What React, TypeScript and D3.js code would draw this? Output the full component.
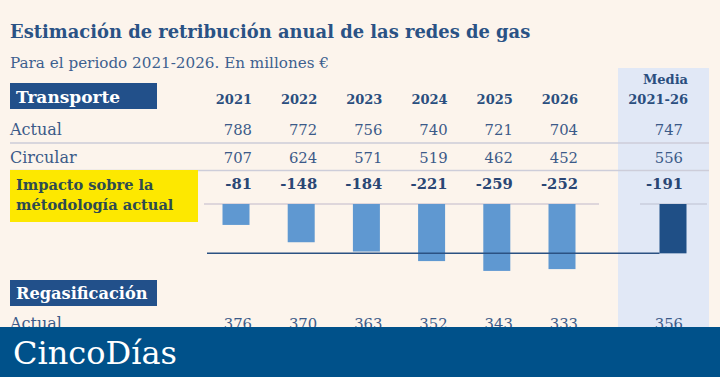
import React, { useEffect } from "react";
import * as d3 from "d3";

const years = ["2021", "2022", "2023", "2024", "2025", "2026"];
const transporteActual = [788, 772, 756, 740, 721, 704];
const transporteCircular = [707, 624, 571, 519, 462, 452];
const impacto = [-81, -148, -184, -221, -259, -252];
const mediaActual = 747;
const mediaCircular = 556;
const mediaImpacto = -191;
const regasActual = [376, 370, 363, 352, 343, 333];
const regasMediaActual = 356;

const W = 720;
const H = 377;
const FONT = "'DejaVu Serif', serif";

export default function App() {
  useEffect(() => {
    document.body.style.margin = "0";
  }, []);

  const xCenter = d3.scaleLinear().domain([0, years.length - 1]).range([236, 562]);
  const mediaCenter = 673;
  const yBar = d3.scaleLinear().domain([0, -300]).range([204, 281.5]);
  const barW = 27;

  const valColor = "#3b5a88";
  const numSize = 14.8;

  return (
    <svg width={W} height={H} style={{ position: "fixed", left: 0, top: 0, display: "block" }} fontFamily={FONT}>
      <rect x={0} y={0} width={W} height={H} fill="#fcf4ec" />
      {/* Media column highlight */}
      <rect x={618} y={68} width={91} height={H - 68} fill="#e1e8f6" />

      <text x={10} y={38} fontSize={17.9} fontWeight={700} fill="#2a5285">
        Estimación de retribución anual de las redes de gas
      </text>
      <text x={10} y={68} fontSize={15.2} fill="#3d5f8f">
        Para el periodo 2021-2026. En millones €
      </text>

      {/* Transporte header */}
      <rect x={10} y={83} width={147} height={26} fill="#22508a" />
      <text x={16} y={103} fontSize={17} fontWeight={700} fill="#ffffff">Transporte</text>
      {years.map((y, i) => (
        <text key={y} x={xCenter(i) + 16} y={104} textAnchor="end" fontSize={13} fontWeight={700} fill="#2a4e7e">{y}</text>
      ))}
      <text x={688} y={84} textAnchor="end" fontSize={13} fontWeight={700} fill="#2a4e7e">Media</text>
      <text x={688} y={104} textAnchor="end" fontSize={13} fontWeight={700} fill="#2a4e7e">2021-26</text>

      {/* Rows */}
      <text x={10} y={135} fontSize={16} fill={valColor}>Actual</text>
      {transporteActual.map((v, i) => (
        <text key={"a" + i} x={xCenter(i) + 16} y={135} textAnchor="end" fontSize={numSize} fill={valColor}>{v}</text>
      ))}
      <text x={683} y={135} textAnchor="end" fontSize={numSize} fill={valColor}>{mediaActual}</text>
      <line x1={10} x2={709} y1={143} y2={143} stroke="#cdcdd9" strokeWidth={1.5} />

      <text x={10} y={163} fontSize={16} fill={valColor}>Circular</text>
      {transporteCircular.map((v, i) => (
        <text key={"c" + i} x={xCenter(i) + 16} y={163} textAnchor="end" fontSize={numSize} fill={valColor}>{v}</text>
      ))}
      <text x={683} y={163} textAnchor="end" fontSize={numSize} fill={valColor}>{mediaCircular}</text>
      <line x1={10} x2={709} y1={170.5} y2={170.5} stroke="#cdcdd9" strokeWidth={1.5} />

      {/* Impacto */}
      <rect x={10} y={170} width={188} height={52} fill="#fde800" />
      <text x={16} y={190} fontSize={14.6} fontWeight={700} fill="#2e4b50">Impacto sobre la</text>
      <text x={16} y={210} fontSize={14.6} fontWeight={700} fill="#2e4b50">métodología actual</text>
      {impacto.map((v, i) => (
        <text key={"i" + i} x={xCenter(i) + 16} y={189} textAnchor="end" fontSize={numSize} fontWeight={700} fill="#2a4674">{v}</text>
      ))}
      <text x={683} y={189} textAnchor="end" fontSize={numSize} fontWeight={700} fill="#2a4674">{mediaImpacto}</text>

      <line x1={204} x2={599} y1={yBar(0)} y2={yBar(0)} stroke="#d4ccd6" strokeWidth={1.5} />
      <line x1={640} x2={707} y1={yBar(0)} y2={yBar(0)} stroke="#c9cedd" strokeWidth={1.5} />
      {impacto.map((v, i) => (
        <rect key={"b" + i} x={xCenter(i) - barW / 2} y={yBar(0)} width={barW} height={yBar(v) - yBar(0)} fill="#5f98d1" />
      ))}
      <rect x={mediaCenter - barW / 2} y={yBar(0)} width={barW} height={yBar(mediaImpacto) - yBar(0)} fill="#1f4f86" />
      <line x1={207} x2={mediaCenter - barW / 2} y1={yBar(mediaImpacto)} y2={yBar(mediaImpacto)} stroke="#2b5182" strokeWidth={1.5} />

      {/* Regasificación */}
      <rect x={10} y={280} width={147} height={26} fill="#22508a" />
      <text x={16} y={299} fontSize={16.2} fontWeight={700} fill="#ffffff">Regasificación</text>
      <text x={10} y={329} fontSize={16} fill={valColor}>Actual</text>
      {regasActual.map((v, i) => (
        <text key={"r" + i} x={xCenter(i) + 16} y={329} textAnchor="end" fontSize={numSize} fill={valColor}>{v}</text>
      ))}
      <text x={683} y={329} textAnchor="end" fontSize={numSize} fill={valColor}>{regasMediaActual}</text>

      {/* Footer */}
      <rect x={0} y={327} width={W} height={H - 327} fill="#00518a" />
      <text x={13} y={364} fontSize={32} fill="#ffffff">CincoDías</text>
    </svg>
  );
}
